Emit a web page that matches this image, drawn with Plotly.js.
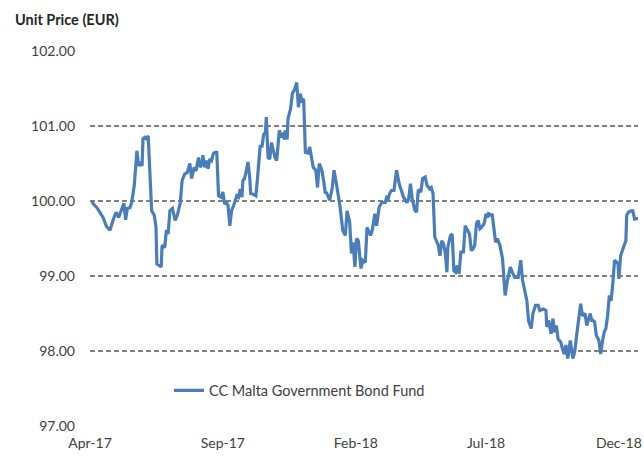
<!DOCTYPE html>
<html>
<head>
<meta charset="utf-8">
<script src="https://cdn.plot.ly/plotly-3.0.1.min.js"></script>
<style>html,body{margin:0;padding:0;background:#fff;}#chart{width:644px;height:457px;}</style>
</head>
<body>
<div id="chart"></div>
<script>
const seriesName = "CC Malta Government Bond Fund";
const yTitle = "Unit Price (EUR)";
const yTickVals = [97, 98, 99, 100, 101, 102];
const yTickText = ["97.00", "98.00", "99.00", "100.00", "101.00", "102.00"];
const xTickVals = ["2017-04-01", "2017-09-01", "2018-02-01", "2018-07-01", "2018-12-01"];
const xTickText = ["Apr-17", "Sep-17", "Feb-18", "Jul-18", "Dec-18"];

const dates = [
"2017-04-03","2017-04-05","2017-04-09","2017-04-13","2017-04-16","2017-04-20","2017-04-24","2017-04-28",
"2017-05-01","2017-05-04","2017-05-08","2017-05-10","2017-05-12","2017-05-14","2017-05-17","2017-05-19",
"2017-05-22","2017-05-24","2017-05-25","2017-05-27","2017-05-29","2017-05-31",
"2017-06-01","2017-06-03","2017-06-05","2017-06-07","2017-06-09","2017-06-11","2017-06-14","2017-06-16",
"2017-06-17","2017-06-19","2017-06-22","2017-06-23","2017-06-26","2017-06-28","2017-06-30",
"2017-07-02","2017-07-05","2017-07-08","2017-07-11","2017-07-14","2017-07-16","2017-07-19","2017-07-22",
"2017-07-25","2017-07-27","2017-07-30",
"2017-08-01","2017-08-04","2017-08-06","2017-08-08","2017-08-09","2017-08-11","2017-08-13","2017-08-15",
"2017-08-17","2017-08-19","2017-08-21","2017-08-23","2017-08-25","2017-08-27","2017-08-30",
"2017-09-01","2017-09-03","2017-09-05","2017-09-07","2017-09-09","2017-09-11","2017-09-14","2017-09-17",
"2017-09-19","2017-09-21","2017-09-23","2017-09-24","2017-09-26","2017-09-28","2017-09-30",
"2017-10-02","2017-10-03","2017-10-06","2017-10-09","2017-10-11","2017-10-13","2017-10-14","2017-10-16",
"2017-10-18","2017-10-20","2017-10-21","2017-10-23","2017-10-25","2017-10-27","2017-10-29","2017-10-31",
"2017-11-02","2017-11-03","2017-11-05","2017-11-07","2017-11-09","2017-11-11","2017-11-12","2017-11-14",
"2017-11-15","2017-11-18","2017-11-20","2017-11-23","2017-11-25","2017-11-27","2017-11-29",
"2017-12-01","2017-12-03","2017-12-05","2017-12-08","2017-12-10","2017-12-14","2017-12-17","2017-12-19",
"2017-12-21","2017-12-24","2017-12-26","2017-12-28","2017-12-29",
"2018-01-02","2018-01-05","2018-01-07","2018-01-10","2018-01-14","2018-01-17","2018-01-20","2018-01-22",
"2018-01-25","2018-01-27","2018-01-29","2018-01-31",
"2018-02-02","2018-02-04","2018-02-07","2018-02-09","2018-02-12","2018-02-14","2018-02-17","2018-02-18",
"2018-02-20","2018-02-23","2018-02-25","2018-02-28",
"2018-03-03","2018-03-07","2018-03-09","2018-03-10","2018-03-12","2018-03-14","2018-03-17","2018-03-20",
"2018-03-23","2018-03-26","2018-03-28",
"2018-04-01","2018-04-03","2018-04-05","2018-04-07","2018-04-10","2018-04-12","2018-04-14","2018-04-17",
"2018-04-19","2018-04-22","2018-04-24","2018-04-27","2018-04-29",
"2018-05-01","2018-05-03","2018-05-05","2018-05-07","2018-05-09","2018-05-11","2018-05-13","2018-05-15",
"2018-05-17","2018-05-18","2018-05-21","2018-05-23","2018-05-25","2018-05-27","2018-05-29","2018-05-31",
"2018-06-02","2018-06-05","2018-06-07","2018-06-09","2018-06-12","2018-06-14","2018-06-16","2018-06-18",
"2018-06-20","2018-06-22","2018-06-24","2018-06-26","2018-06-29",
"2018-07-01","2018-07-03","2018-07-04","2018-07-07","2018-07-08","2018-07-10","2018-07-12","2018-07-14",
"2018-07-17","2018-07-20","2018-07-21","2018-07-23","2018-07-25","2018-07-28","2018-07-29",
"2018-08-01","2018-08-03","2018-08-07","2018-08-10","2018-08-12","2018-08-15","2018-08-17","2018-08-19",
"2018-08-21","2018-08-22","2018-08-24","2018-08-27","2018-08-30",
"2018-09-01","2018-09-05","2018-09-08","2018-09-09","2018-09-11","2018-09-14","2018-09-16","2018-09-18",
"2018-09-20","2018-09-22","2018-09-25","2018-09-27","2018-09-29",
"2018-10-01","2018-10-03","2018-10-04","2018-10-06","2018-10-09","2018-10-11","2018-10-14","2018-10-16",
"2018-10-18","2018-10-20","2018-10-23","2018-10-25","2018-10-27","2018-10-29","2018-10-31",
"2018-11-01","2018-11-03","2018-11-05","2018-11-08","2018-11-10","2018-11-12","2018-11-14","2018-11-16",
"2018-11-18","2018-11-20","2018-11-22","2018-11-24","2018-11-26","2018-11-28","2018-11-30",
"2018-12-01","2018-12-03","2018-12-05","2018-12-07","2018-12-09","2018-12-10","2018-12-12","2018-12-15",
"2018-12-17","2018-12-19","2018-12-23"
];

const prices = [
100.00,99.96,99.91,99.83,99.78,99.66,99.61,99.76,
99.85,99.78,99.91,99.97,99.75,99.90,99.91,99.98,
100.21,100.50,100.67,100.47,100.50,100.47,
100.83,100.85,100.83,100.87,100.27,99.87,99.81,99.65,
99.16,99.14,99.12,99.41,99.38,99.61,99.56,
99.87,99.90,99.74,99.83,99.98,100.27,100.36,100.38,
100.50,100.30,100.45,
100.40,100.58,100.45,100.50,100.61,100.45,100.54,100.43,
100.56,100.54,100.63,100.65,100.65,100.07,100.05,
100.12,99.96,99.98,99.94,99.67,99.87,99.96,100.07,
100.05,100.16,100.05,100.27,100.30,100.41,100.52,
100.30,100.10,100.09,100.07,100.32,100.54,100.74,100.72,
100.89,100.91,101.12,100.58,100.56,100.78,100.67,100.58,
100.54,100.67,100.94,100.87,100.89,100.82,100.94,100.82,
101.10,101.23,101.43,101.50,101.58,101.25,101.43,
101.34,101.36,100.65,100.64,100.72,100.45,100.41,100.18,
100.50,100.41,100.27,100.10,100.12,
100.01,100.18,100.41,100.21,99.92,99.61,99.54,99.87,
99.72,99.30,99.45,99.12,
99.50,99.47,99.10,99.21,99.18,99.65,99.58,99.54,
99.61,99.83,99.67,99.92,
99.98,99.98,100.07,100.01,100.10,100.14,100.14,100.41,
100.23,100.12,100.05,
99.98,100.03,100.23,100.03,99.88,99.85,100.15,100.12,
100.30,100.32,100.21,100.16,100.18,
100.10,99.52,99.45,99.41,99.27,99.47,99.43,99.32,
99.05,99.38,99.54,99.56,99.07,99.05,99.14,99.03,
99.32,99.32,99.67,99.63,99.56,99.34,99.36,99.41,
99.70,99.74,99.63,99.65,99.70,
99.83,99.78,99.83,99.81,99.83,99.67,99.45,99.50,
99.41,99.23,99.03,98.74,98.90,99.07,99.12,
99.03,98.98,98.98,99.21,98.95,98.80,98.67,98.40,
98.35,98.30,98.50,98.61,98.61,
98.54,98.56,98.54,98.32,98.41,98.23,98.43,98.25,
98.34,98.16,98.12,98.03,97.96,
98.08,97.90,97.96,98.14,97.90,97.98,98.27,98.50,
98.63,98.47,98.50,98.34,98.43,98.50,98.39,
98.41,98.39,98.21,98.14,97.96,98.12,98.25,98.30,
98.47,98.74,98.67,98.90,99.21,99.19,99.16,
98.96,99.27,99.34,99.41,99.47,99.81,99.85,99.87,
99.87,99.76,99.77
];

const font = "Lato, 'Open Sans', sans-serif";
const textColor = "#404040";

const trace = {
  x: dates, y: prices, type: "scatter", mode: "lines", name: seriesName,
  line: {color: "#4a7ebb", width: 3.2}
};

const layout = {
  width: 644, height: 457,
  margin: {l: 90, r: 6, t: 51, b: 31},
  paper_bgcolor: "#ffffff", plot_bgcolor: "#ffffff",
  font: {family: font, size: 14, color: textColor},
  showlegend: true,
  legend: {
    x: 0.144, y: 0.095, xanchor: "left", yanchor: "middle",
    bgcolor: "rgba(0,0,0,0)", borderwidth: 0,
    font: {family: font, size: 14.5, color: textColor}
  },
  xaxis: {
    type: "date",
    range: ["2017-04-01", "2018-12-23"],
    tickmode: "array", tickvals: xTickVals, ticktext: xTickText,
    showgrid: false, zeroline: false, showline: false, ticks: "",
    ticklabelstandoff: 7,
    tickfont: {family: font, size: 14, color: textColor}
  },
  yaxis: {
    range: [97, 102],
    tickmode: "array", tickvals: yTickVals, ticktext: yTickText,
    showgrid: true, gridcolor: "#808080", gridwidth: 1.8, griddash: "5px,3px",
    zeroline: false, showline: false, ticks: "",
    ticklabelstandoff: 14,
    tickfont: {family: font, size: 14, color: textColor}
  },
  annotations: [{
    text: "<b>" + yTitle + "</b>", xref: "paper", yref: "paper",
    x: -0.141, y: 1.055, xanchor: "left", yanchor: "bottom",
    showarrow: false,
    font: {family: font, size: 14.5, color: "#262626"}
  }]
};

Plotly.newPlot("chart", [trace], layout, {displayModeBar: false, responsive: false});
</script>
</body>
</html>
